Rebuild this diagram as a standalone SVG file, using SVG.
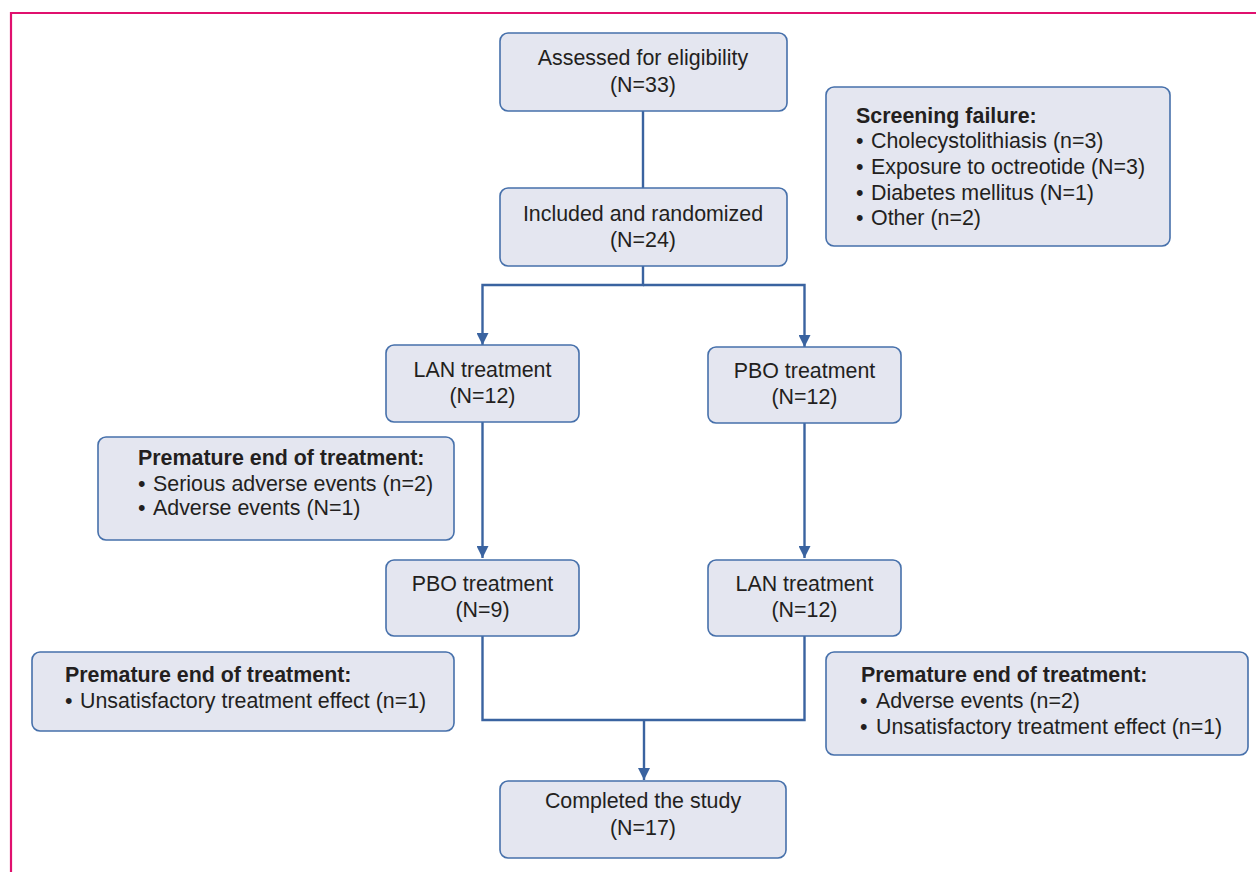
<svg xmlns="http://www.w3.org/2000/svg" width="1256" height="872" viewBox="0 0 1256 872">
<style>
text{font-family:"Liberation Sans",Arial,sans-serif;font-size:21.4px;fill:#231f20}
.c{text-anchor:middle}
.b{font-weight:bold}
.box{fill:#e4e6f0;stroke:#4670ab;stroke-width:1.6}
.ln{fill:none;stroke:#3a63a0;stroke-width:2.4}
</style>
<defs>
<marker id="ah" viewBox="0 0 10 10" refX="10" refY="5" markerWidth="12" markerHeight="12" markerUnits="userSpaceOnUse" orient="auto">
<path d="M0,0 L10,5 L0,10 Z" fill="#3a63a0"/>
</marker>
</defs>
<rect width="1256" height="872" fill="#fff"/>
<path d="M11,872 V13 H1256" fill="none" stroke="#e0106e" stroke-width="2.2"/>
<g id="connectors">
<path class="ln" d="M643,111 V188"/>
<path class="ln" d="M643,266 V285 H482.5 V345" marker-end="url(#ah)"/>
<path class="ln" d="M643,285 H804.5 V347" marker-end="url(#ah)"/>
<path class="ln" d="M482.5,422 V558" marker-end="url(#ah)"/>
<path class="ln" d="M804.5,423 V558" marker-end="url(#ah)"/>
<path class="ln" d="M482.5,636 V720 H804.5 V636"/>
<path class="ln" d="M644,720 V780" marker-end="url(#ah)"/>
</g>
<g id="assessed">
<rect class="box" x="500" y="33" width="287" height="78" rx="8"/>
<text class="c" x="643" y="65">Assessed for eligibility</text>
<text class="c" x="643" y="92">(N=33)</text>
</g>
<g id="screening">
<rect class="box" x="826" y="87" width="344" height="159" rx="8"/>
<text class="b" x="856" y="123">Screening failure:</text>
<text x="856" y="148">•</text><text x="871" y="148">Cholecystolithiasis (n=3)</text>
<text x="856" y="174">•</text><text x="871" y="174">Exposure to octreotide (N=3)</text>
<text x="856" y="199.5">•</text><text x="871" y="199.5">Diabetes mellitus (N=1)</text>
<text x="856" y="225">•</text><text x="871" y="225">Other (n=2)</text>
</g>
<g id="included">
<rect class="box" x="500" y="188" width="287" height="78" rx="8"/>
<text class="c" x="643" y="221">Included and randomized</text>
<text class="c" x="643" y="247">(N=24)</text>
</g>
<g id="lan1">
<rect class="box" x="386" y="345" width="193" height="77" rx="8"/>
<text class="c" x="482.5" y="377">LAN treatment</text>
<text class="c" x="482.5" y="403">(N=12)</text>
</g>
<g id="pbo1">
<rect class="box" x="708" y="347" width="193" height="76" rx="8"/>
<text class="c" x="804.5" y="378">PBO treatment</text>
<text class="c" x="804.5" y="404">(N=12)</text>
</g>
<g id="premature1">
<rect class="box" x="98" y="437" width="356" height="103" rx="8"/>
<text class="b" x="138" y="465">Premature end of treatment:</text>
<text x="138" y="490.5">•</text><text x="153" y="490.5">Serious adverse events (n=2)</text>
<text x="138" y="515">•</text><text x="153" y="515">Adverse events (N=1)</text>
</g>
<g id="pbo2">
<rect class="box" x="386" y="560" width="193" height="76" rx="8"/>
<text class="c" x="482.5" y="591">PBO treatment</text>
<text class="c" x="482.5" y="617">(N=9)</text>
</g>
<g id="lan2">
<rect class="box" x="708" y="560" width="193" height="76" rx="8"/>
<text class="c" x="804.5" y="591">LAN treatment</text>
<text class="c" x="804.5" y="617">(N=12)</text>
</g>
<g id="premature2">
<rect class="box" x="32" y="652" width="422" height="79" rx="8"/>
<text class="b" x="65" y="682">Premature end of treatment:</text>
<text x="65" y="708">•</text><text x="80" y="708">Unsatisfactory treatment effect (n=1)</text>
</g>
<g id="premature3">
<rect class="box" x="826" y="652" width="422" height="103" rx="8"/>
<text class="b" x="861" y="682">Premature end of treatment:</text>
<text x="860" y="708">•</text><text x="876" y="708">Adverse events (n=2)</text>
<text x="860" y="734">•</text><text x="876" y="734">Unsatisfactory treatment effect (n=1)</text>
</g>
<g id="completed">
<rect class="box" x="500" y="781" width="286" height="77" rx="8"/>
<text class="c" x="643" y="808">Completed the study</text>
<text class="c" x="643" y="835">(N=17)</text>
</g>
</svg>
